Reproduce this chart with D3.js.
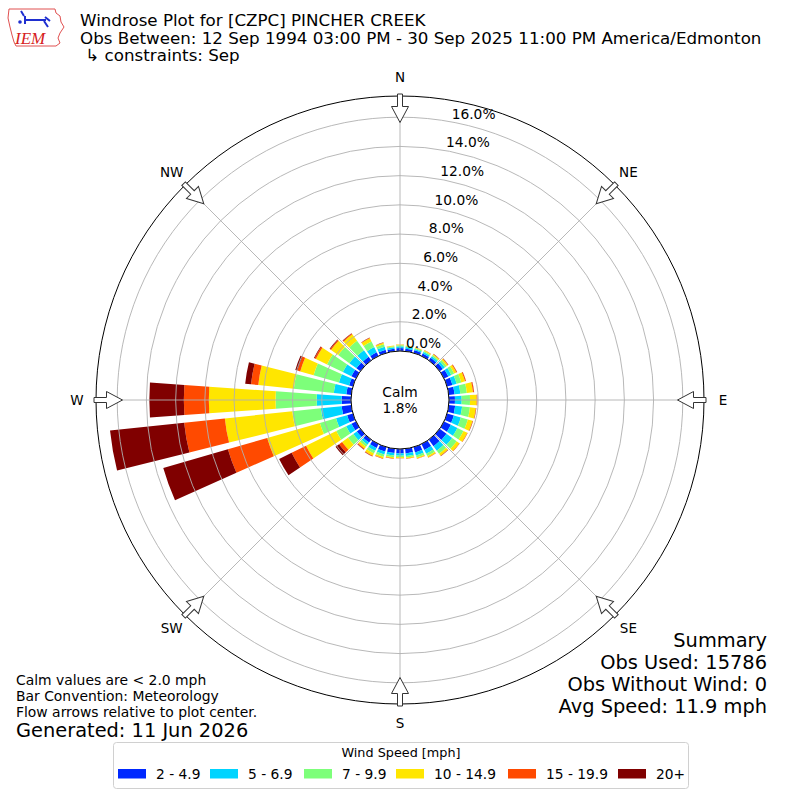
<!DOCTYPE html>
<html>
<head>
<meta charset="utf-8">
<script src="https://cdn.jsdelivr.net/npm/d3@7"></script>
<style>
  body { margin: 0; background: #fff; }
  svg { display: block; font-family: "DejaVu Sans", sans-serif; }
</style>
</head>
<body>
<div id="chart"></div>
<script>
// wind directions (deg, meteorological, bin centres)
var directions = [0, 10, 20, 30, 40, 50, 60, 70, 80, 90, 100, 110, 120, 130, 140, 150, 160, 170,
  180, 190, 200, 210, 220, 230, 240, 250, 260, 270, 280, 290, 300, 310, 320, 330, 340, 350];
var dirLabels = ['N', 'NE', 'E', 'SE', 'S', 'SW', 'W', 'NW'];
var speedBins = ['2 - 4.9', '5 - 6.9', '7 - 9.9', '10 - 14.9', '15 - 19.9', '20+'];
var binColors = ['#0028ff', '#00d4ff', '#7dff7a', '#ffe600', '#ff4a00', '#800000'];

// frequency (%) per direction, one array per speed bin
var spd2 = [.20, .18, .18, .19, .22, .27, .33, .38, .40, .41, .44, .48, .52, .58, .55, .45, .38, .32,
  .30, .30, .32, .30, .25, .30, .34, .41, .66, .64, .34, .27, .35, .33, .30, .28, .22, .17];
var spd5 = [.12, .11, .10, .11, .13, .17, .22, .30, .40, .46, .48, .50, .50, .48, .38, .28, .22, .18,
  .16, .17, .21, .22, .18, .30, .41, .79, 1.43, 1.71, .86, .73, .65, .60, .55, .40, .22, .11];
var spd7 = [.08, .07, .07, .08, .10, .15, .22, .33, .45, .57, .54, .50, .46, .38, .26, .18, .14, .11,
  .10, .12, .16, .20, .17, .45, .75, 1.15, 1.97, 2.81, 2.75, 1.80, 1.20, .95, .80, .42, .18, .07];
var spd10 = [.04, .03, .04, .05, .07, .11, .17, .27, .42, .46, .40, .33, .29, .23, .17, .11, .09, .07,
  .07, .08, .12, .17, .17, .50, 2.30, 3.75, 4.64, 4.57, 2.45, .95, .85, .60, .55, .25, .10, .04];
var spd15 = [.01, .01, .01, .02, .02, .04, .05, .06, .07, .04, .03, .03, .03, .03, .03, .02, .02, .02,
  .02, .03, .03, .05, .06, .25, 1.10, 2.80, 2.80, 1.71, .50, .20, .10, .08, .07, .04, .02, .01];
var spd20 = [0, 0, 0, 0, .01, .01, .01, .01, .01, .01, .01, .01, 0, 0, .01, .01, 0, 0,
  0, 0, .01, .01, .02, .30, .95, 4.60, 5.10, 2.36, .40, .15, .05, .04, .03, .01, .01, 0];

var rTicks = [0, 2, 4, 6, 8, 10, 12, 14, 16];
var calmPct = 1.8;

var titleLines = ['Windrose Plot for [CZPC] PINCHER CREEK',
  'Obs Between: 12 Sep 1994 03:00 PM - 30 Sep 2025 11:00 PM America/Edmonton',
  ' \u21b3 constraints: Sep'];
var noteLines = ['Calm values are < 2.0 mph', 'Bar Convention: Meteorology', 'Flow arrows relative to plot center.'];
var summaryLines = ['Summary', 'Obs Used: 15786', 'Obs Without Wind: 0', 'Avg Speed: 11.9 mph'];

(function(window, d3) {
  'use strict';

  var width = 800, height = 800;
  var cx = 400, cy = 400;
  var rad = Math.PI / 180;

  var svg = d3.select('#chart').append('svg')
    .attr('width', width)
    .attr('height', height);

  var table = directions.map(function(d, i) {
    var row = { dir: d };
    [spd2, spd5, spd7, spd10, spd15, spd20].forEach(function(s, k) { row[speedBins[k]] = s[i]; });
    return row;
  });
  var stacked = d3.stack().keys(speedBins)(table);

  var r = d3.scaleLinear().domain([0, 17.45]).range([49, 304]);

  var g = svg.append('g').attr('transform', 'translate(' + cx + ',' + cy + ')');

  // bars
  var arc = d3.arc();
  var halfW = 4 * rad;
  g.append('g').attr('class', 'bars')
    .selectAll('g')
    .data(stacked)
    .enter().append('g')
    .attr('fill', function(d, i) { return binColors[i]; })
    .selectAll('path')
    .data(function(d) { return d; })
    .enter().append('path')
    .attr('d', function(d) {
      var a = d.data.dir * rad;
      return arc({ innerRadius: r(d[0]), outerRadius: r(d[1]), startAngle: a - halfW, endAngle: a + halfW });
    });

  // grid on top of bars
  var grid = g.append('g').attr('class', 'grid');
  grid.selectAll('circle')
    .data(rTicks)
    .enter().append('circle')
    .attr('r', function(d) { return r(d); })
    .attr('fill', 'none')
    .attr('stroke', '#b0b0b0')
    .attr('stroke-width', 0.9);

  grid.selectAll('line')
    .data(d3.range(0, 360, 45))
    .enter().append('line')
    .attr('x1', 0).attr('y1', 0)
    .attr('x2', function(d) { return r(17.45) * Math.sin(d * rad); })
    .attr('y2', function(d) { return -r(17.45) * Math.cos(d * rad); })
    .attr('stroke', '#b0b0b0')
    .attr('stroke-width', 0.9);

  g.append('circle')
    .attr('r', r(17.45))
    .attr('fill', 'none')
    .attr('stroke', '#000')
    .attr('stroke-width', 1);

  // radial tick labels
  var la = 11.25 * rad;
  g.append('g').selectAll('text')
    .data(rTicks)
    .enter().append('text')
    .attr('x', function(d) { return r(d) * Math.sin(la) - 3.5; })
    .attr('y', function(d) { return -r(d) * Math.cos(la) - 4; })
    .attr('font-size', 13.8)
    .text(function(d) { return d3.format('.1f')(d) + '%'; });

  // calm circle
  g.append('circle')
    .attr('r', r(0))
    .attr('fill', '#fff')
    .attr('stroke', '#000')
    .attr('stroke-width', 1);
  g.append('text')
    .attr('text-anchor', 'middle')
    .attr('font-size', 13.8)
    .selectAll('tspan')
    .data(['Calm', calmPct.toFixed(1) + '%'])
    .enter().append('tspan')
    .attr('x', 0)
    .attr('y', function(d, i) { return -3 + i * 16; })
    .text(String);

  // flow arrows
  g.append('g').selectAll('path')
    .data(d3.range(0, 360, 45))
    .enter().append('path')
    .attr('d', 'M-2.5,-306L2.5,-306L2.5,-293.5L8.5,-293.5L0,-277.5L-8.5,-293.5L-2.5,-293.5Z')
    .attr('transform', function(d) { return 'rotate(' + d + ')'; })
    .attr('fill', '#fff')
    .attr('stroke', '#333')
    .attr('stroke-width', 1);

  // compass labels
  g.append('g').selectAll('text')
    .data(dirLabels)
    .enter().append('text')
    .attr('x', function(d, i) { return 323 * Math.sin(i * 45 * rad); })
    .attr('y', function(d, i) { return -323 * Math.cos(i * 45 * rad) + 5; })
    .attr('text-anchor', 'middle')
    .attr('font-size', 13.5)
    .text(String);

  // header
  svg.append('g').selectAll('text')
    .data(titleLines)
    .enter().append('text')
    .attr('x', 80)
    .attr('y', function(d, i) { return 26 + i * 17.5; })
    .attr('font-size', 16.7)
    .attr('xml:space', 'preserve')
    .style('white-space', 'pre')
    .text(String);

  // logo
  var logo = svg.append('g').attr('class', 'logo');
  logo.append('path')
    .attr('d', 'M9,9L55,9L56,13L60,16L61,22L64,27L60,33L58,38L60,43L56,46L16,46L14,42L12,35L10,27L8,18Z')
    .attr('fill', '#fff')
    .attr('stroke', '#e05050')
    .attr('stroke-width', 1);
  logo.append('path')
    .attr('d', 'M24,20L46,20M25,16L25,24M45,17L50,21M44,21L48,27M21,11L24,16')
    .attr('stroke', '#1f2fd0')
    .attr('stroke-width', 2)
    .attr('fill', 'none');
  logo.append('circle').attr('cx', 20).attr('cy', 22).attr('r', 1.8).attr('fill', '#1f2fd0');
  logo.append('text')
    .attr('x', 15).attr('y', 44)
    .attr('font-family', 'Liberation Serif, serif')
    .attr('font-style', 'italic')
    .attr('font-size', 17)
    .attr('fill', '#d62020')
    .text('IEM');

  // notes
  svg.append('g').selectAll('text')
    .data(noteLines)
    .enter().append('text')
    .attr('x', 16)
    .attr('y', function(d, i) { return 685 + i * 16; })
    .attr('font-size', 13.9)
    .text(String);
  svg.append('text')
    .attr('x', 16).attr('y', 737)
    .attr('font-size', 19.4)
    .text('Generated: 11 Jun 2026');

  // summary
  svg.append('g').selectAll('text')
    .data(summaryLines)
    .enter().append('text')
    .attr('x', 767)
    .attr('y', function(d, i) { return 647 + i * 22; })
    .attr('text-anchor', 'end')
    .attr('font-size', 19.4)
    .text(String);

  // legend
  var leg = svg.append('g').attr('class', 'legend');
  leg.append('rect')
    .attr('x', 113.5).attr('y', 742.5)
    .attr('width', 575).attr('height', 46)
    .attr('rx', 3)
    .attr('fill', '#fff')
    .attr('stroke', '#d0d0d0');
  leg.append('text')
    .attr('x', 401).attr('y', 757)
    .attr('text-anchor', 'middle')
    .attr('font-size', 12.8)
    .text('Wind Speed [mph]');
  var legX = [118, 210, 304, 396, 508, 618];
  var item = leg.selectAll('g.item')
    .data(speedBins)
    .enter().append('g')
    .attr('class', 'item')
    .attr('transform', function(d, i) { return 'translate(' + legX[i] + ',769)'; });
  item.append('rect')
    .attr('width', 28).attr('height', 9.5)
    .attr('fill', function(d, i) { return binColors[i]; });
  item.append('text')
    .attr('x', 38).attr('y', 10)
    .attr('font-size', 13.8)
    .text(String);
})(window, window.d3);
</script>
</body>
</html>
